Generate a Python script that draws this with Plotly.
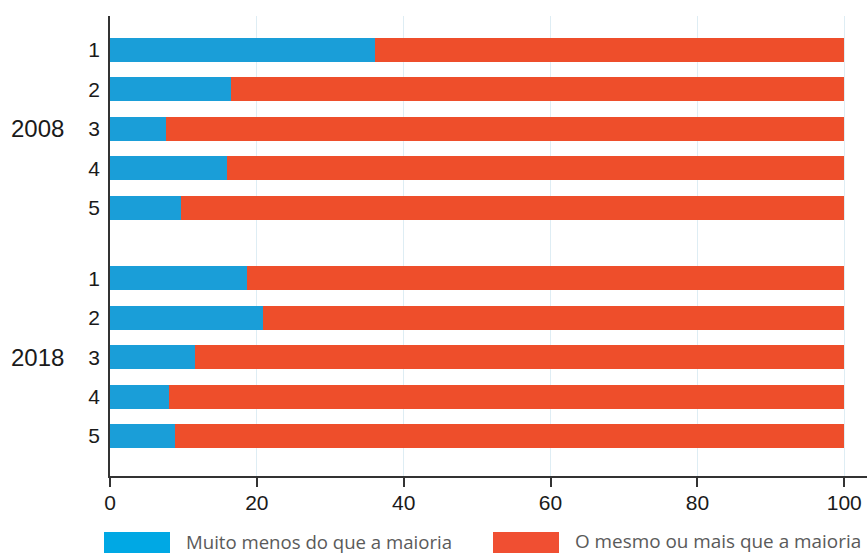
import plotly.graph_objects as go

groups = ["2008", "2018"]
categories = ["1", "2", "3", "4", "5"]
muito_menos = {
    "2008": [36.1, 16.5, 7.6, 16.0, 9.7],
    "2018": [18.7, 20.9, 11.6, 8.1, 8.8],
}
series_names = ["Muito menos do que a maioria", "O mesmo ou mais que a maioria"]
x_ticks = [0, 20, 40, 60, 80, 100]

GROUP_STEP = len(categories) - 1 + 1.8  # slot position of the next group's first bar

ypos, blue, red, ylabels = [], [], [], []
for gi, g in enumerate(groups):
    for ci, c in enumerate(categories):
        ypos.append(gi * GROUP_STEP + ci)
        blue.append(muito_menos[g][ci])
        red.append(100 - muito_menos[g][ci])
        ylabels.append(c)

BAR_BLUE = "#1a9ed8"
BAR_RED = "#ee4e2b"
BAR_W = 0.61

fig = go.Figure()
fig.add_trace(go.Bar(y=ypos, x=blue, orientation="h", name=series_names[0],
                     marker=dict(color=BAR_BLUE, line=dict(width=0)), width=BAR_W,
                     showlegend=False))
fig.add_trace(go.Bar(y=ypos, x=red, orientation="h", name=series_names[1],
                     marker=dict(color=BAR_RED, line=dict(width=0)), width=BAR_W,
                     showlegend=False))

font_axis = dict(family="Liberation Sans, Arial, sans-serif", size=21, color="#1a1a1a")
font_group = dict(family="Liberation Sans, Arial, sans-serif", size=24, color="#1a1a1a")

# body margin is removed by post_script, so page px == figure px
W, H = 867, 553
ML, MR, MT, MB = 110, 0, 16, 77
plot_w = W - ML - MR
plot_h = H - MT - MB
AXIS_Y = 476  # px of x-axis line


def px_x(page_x):
    return (page_x - ML) / plot_w


def px_y(page_y):
    return (AXIS_Y - page_y) / plot_h


last = ypos[-1]
fig.update_layout(
    barmode="stack",
    width=W, height=H,
    margin=dict(l=ML, r=MR, t=MT, b=MB, autoexpand=False),
    paper_bgcolor="white", plot_bgcolor="white",
    xaxis=dict(range=[0, 103.1], tickvals=x_ticks, ticktext=[str(v) for v in x_ticks],
               showgrid=True, gridcolor="#deedf4", gridwidth=1, zeroline=False,
               showline=True, linecolor="#333333", linewidth=1.5,
               ticks="outside", ticklen=9, tickcolor="#333333", tickwidth=1.5,
               tickfont=font_axis, ticklabelstandoff=-2, automargin=False),
    yaxis=dict(range=[last + 1.015, -0.863], tickvals=ypos, ticktext=ylabels,
               showgrid=False, zeroline=False, showline=True, linecolor="#333333",
               linewidth=1.5, ticks="", tickfont=font_axis, ticklabelstandoff=4,
               automargin=False),
)

# group labels
for gi, g in enumerate(groups):
    fig.add_annotation(x=px_x(37.5), xref="paper", xanchor="center",
                       y=gi * GROUP_STEP + 2, yref="y",
                       text=g, showarrow=False, font=font_group)

# custom legend
legend_colors = ["#00a8e4", "#f04f32"]
legend_x = [104, 493]
legend_sizes = [18.6, 18.9]
for name, col, px, fs in zip(series_names, legend_colors, legend_x, legend_sizes):
    fig.add_shape(type="rect", xref="paper", yref="paper",
                  x0=px_x(px), x1=px_x(px + 66),
                  y0=px_y(553), y1=px_y(532),
                  fillcolor=col, line=dict(width=0))
    fig.add_annotation(x=px_x(px + 80), xref="paper", xanchor="left",
                       y=px_y(541), yref="paper", yanchor="middle",
                       text=name, showarrow=False,
                       font=dict(family="Open Sans, sans-serif", size=fs, color="#5a5a5a"))

fig.write_html("out.html", config={"displayModeBar": False},
               post_script="document.body.style.margin='0';")
